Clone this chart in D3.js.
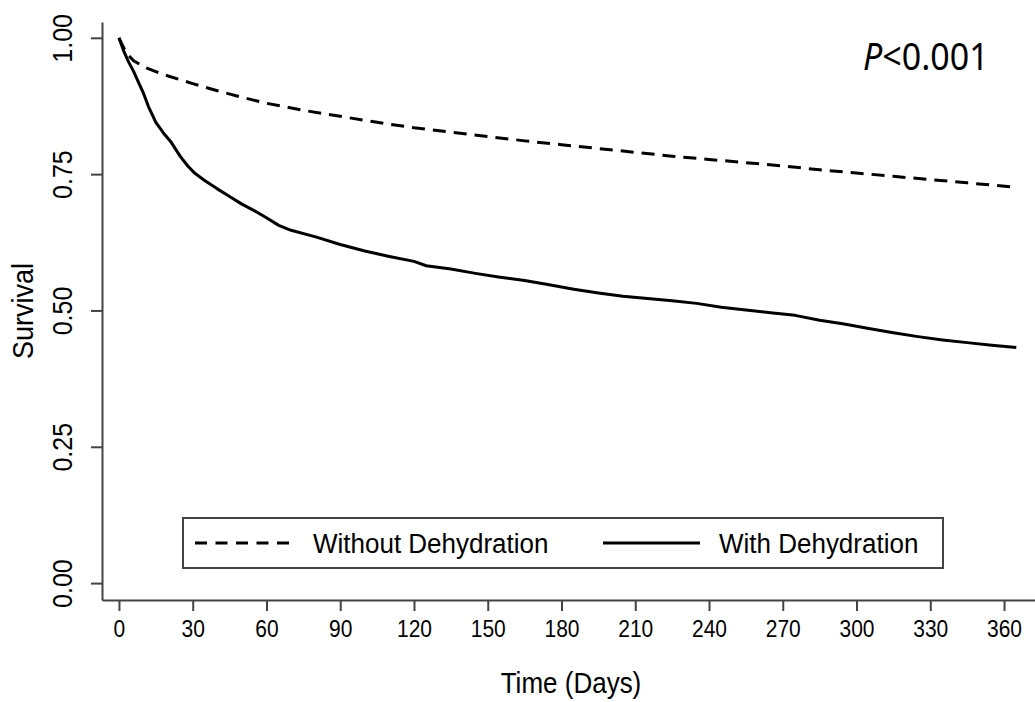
<!DOCTYPE html>
<html>
<head>
<meta charset="utf-8">
<script src="https://cdn.jsdelivr.net/npm/d3@7"></script>
<style>
  body { margin: 0; background: #fff; }
  svg { display: block; font-family: "Liberation Sans", Arial, sans-serif; }
</style>
</head>
<body>
<svg id="chart" width="1035" height="702"></svg>
<script>
const width = 1035
const height = 702

// tick labels
const xTicks = [0, 30, 60, 90, 120, 150, 180, 210, 240, 270, 300, 330, 360]
const yTicks = [0, 0.25, 0.5, 0.75, 1]

// Without Dehydration (dashed)
const withoutDays = [0, 1, 3, 6, 10, 15, 20, 25, 30, 40, 50, 60, 75, 90, 105, 120, 135, 150, 165, 180, 195, 210, 225, 240, 255, 270, 285, 300, 315, 330, 345, 365]
const withoutSurv = [1.0, 0.99, 0.972, 0.958, 0.947, 0.938, 0.930, 0.923, 0.916, 0.903, 0.891, 0.880, 0.867, 0.856, 0.845, 0.835, 0.827, 0.819, 0.811, 0.804, 0.797, 0.790, 0.783, 0.777, 0.771, 0.765, 0.758, 0.752, 0.746, 0.740, 0.734, 0.726]

// With Dehydration (solid)
const withDays = [0, 2, 4, 6, 8, 10, 12, 15, 18, 21, 25, 28, 31, 35, 40, 45, 50, 55, 60, 65, 70, 80, 90, 100, 110, 120, 125, 135, 145, 155, 165, 175, 185, 195, 205, 215, 225, 235, 245, 255, 265, 275, 285, 295, 305, 315, 325, 335, 345, 355, 365]
const withSurv = [1.0, 0.975, 0.955, 0.938, 0.918, 0.898, 0.874, 0.845, 0.826, 0.810, 0.782, 0.765, 0.751, 0.738, 0.723, 0.709, 0.695, 0.683, 0.670, 0.656, 0.647, 0.635, 0.621, 0.609, 0.599, 0.590, 0.582, 0.576, 0.568, 0.561, 0.555, 0.547, 0.539, 0.532, 0.526, 0.522, 0.518, 0.513, 0.506, 0.501, 0.496, 0.491, 0.482, 0.475, 0.467, 0.459, 0.452, 0.446, 0.441, 0.436, 0.432]

const legendLabels = ['Without Dehydration', 'With Dehydration']

const svg = d3.select('#chart')

const x = d3.scaleLinear().domain([-6.9, 372.6]).range([102, 1035])
const y = d3.scaleLinear().domain([-0.031, 1.029]).range([600, 22])

const axisColor = '#444'
// the reference glyphs are a bit taller than Liberation Sans
const tall = 'scale(1,1.1)'

// x axis
const gx = svg.append('g')
  .attr('transform', 'translate(0,600)')
  .call(d3.axisBottom(x).tickValues(xTicks).tickFormat(d3.format('d'))
    .tickSize(11).tickSizeOuter(0))
gx.select('.domain').attr('stroke', axisColor).attr('stroke-width', 2)
gx.selectAll('.tick line').attr('stroke', axisColor).attr('stroke-width', 2)
gx.selectAll('.tick text')
  .attr('y', 0)
  .attr('dy', 0)
  .attr('transform', 'translate(0,37) ' + tall)
  .attr('fill', '#000')
  .style('font-size', '21px')
  .style('font-family', '"Liberation Sans", Arial, sans-serif')

// y axis
const gy = svg.append('g')
  .attr('transform', 'translate(102,0)')
  .call(d3.axisLeft(y).tickValues(yTicks).tickFormat(d3.format('.2f'))
    .tickSize(11).tickSizeOuter(0))
gy.select('.domain').attr('stroke', axisColor).attr('stroke-width', 2)
gy.selectAll('.tick line').attr('stroke', axisColor).attr('stroke-width', 2)
gy.selectAll('.tick text')
  .attr('x', 0)
  .attr('y', 0)
  .attr('dy', 0)
  .attr('transform', 'translate(-30,0) rotate(-90) ' + tall)
  .attr('text-anchor', 'middle')
  .attr('fill', '#000')
  .style('font-size', '25px')
  .style('font-family', '"Liberation Sans", Arial, sans-serif')

// axis titles
svg.append('text')
  .attr('transform', 'translate(571,693) ' + tall)
  .attr('text-anchor', 'middle')
  .style('font-size', '26px')
  .text('Time (Days)')

svg.append('text')
  .attr('transform', 'translate(33,311) rotate(-90) ' + tall)
  .attr('text-anchor', 'middle')
  .style('font-size', '27px')
  .text('Survival')

// curves
const line = d3.line()
  .x(d => x(d[0]))
  .y(d => y(d[1]))

svg.append('path')
  .datum(d3.zip(withoutDays, withoutSurv))
  .attr('d', line)
  .attr('fill', 'none')
  .attr('stroke', '#000')
  .attr('stroke-width', 3)
  .attr('stroke-dasharray', '13,8')

svg.append('path')
  .datum(d3.zip(withDays, withSurv))
  .attr('d', line)
  .attr('fill', 'none')
  .attr('stroke', '#000')
  .attr('stroke-width', 3)
  .attr('stroke-linejoin', 'round')

// p value
const pText = svg.append('text')
  .attr('transform', 'translate(863,70) scale(1,1.12)')
  .style('font-family', '"Noto Sans", "Open Sans", sans-serif')
  .style('font-size', '34px')
pText.append('tspan').style('font-style', 'italic').text('P')
pText.append('tspan').text('<0.001')

// legend
const legend = svg.append('g')
legend.append('rect')
  .attr('x', 183).attr('y', 518)
  .attr('width', 760).attr('height', 50)
  .attr('fill', '#fff')
  .attr('stroke', axisColor)
  .attr('stroke-width', 2)

legend.append('line')
  .attr('x1', 195).attr('x2', 289)
  .attr('y1', 543).attr('y2', 543)
  .attr('stroke', '#000').attr('stroke-width', 3)
  .attr('stroke-dasharray', '12,8.5')
legend.append('text')
  .attr('transform', 'translate(313,553) scale(1,1.06)')
  .style('font-size', '26px')
  .text(legendLabels[0])

legend.append('line')
  .attr('x1', 603).attr('x2', 700)
  .attr('y1', 543).attr('y2', 543)
  .attr('stroke', '#000').attr('stroke-width', 3)
legend.append('text')
  .attr('transform', 'translate(719,553) scale(1,1.06)')
  .style('font-size', '26px')
  .text(legendLabels[1])
</script>
</body>
</html>
